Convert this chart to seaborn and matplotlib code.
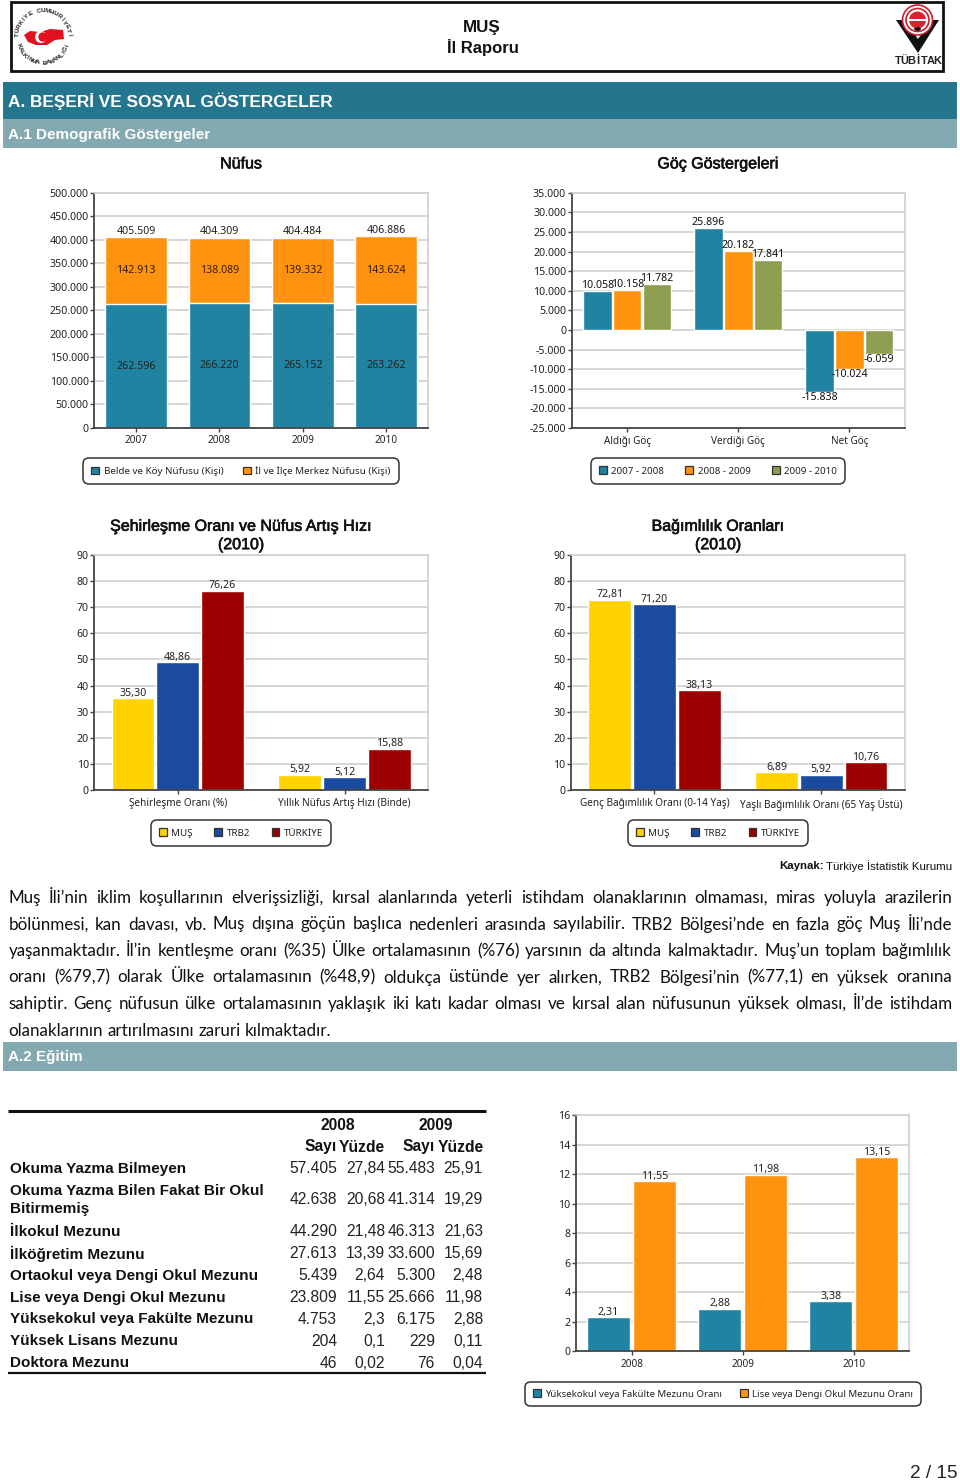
#!/usr/bin/env python
"""
  Mus il raporu, sayfa 2: demografi ve egitim grafikleri
"""

import matplotlib
matplotlib.use('Agg')
import matplotlib.pyplot as plt
import matplotlib.patheffects as pe
import matplotlib.ticker as ticker
from matplotlib.patches import Circle, Patch, Polygon, Rectangle, Wedge
import numpy as np
import pandas as pd
import seaborn as sns

W, H = 960, 1484

TEAL = "#1F83A1"
ORANGE = "#FF930F"
OLIVE = "#8E9E50"
YELLOW = "#FFD200"
BLUE = "#1B4BA0"
RED = "#9C0000"

# nufus
nufus_years = ["2007", "2008", "2009", "2010"]
nufus_koy = [262596, 266220, 265152, 263262]
nufus_merkez = [142913, 138089, 139332, 143624]

# goc
goc_cats = ["Aldığı Göç", "Verdiği Göç", "Net Göç"]
goc_periods = ["2007 - 2008", "2008 - 2009", "2009 - 2010"]
goc_0708 = [10058, 25896, -15838]
goc_0809 = [10158, 20182, -10024]
goc_0910 = [11782, 17841, -6059]

# sehirlesme
sehir_cats = ["Şehirleşme Oranı (%)", "Yıllık Nüfus Artış Hızı (Binde)"]
sehir_mus = [35.30, 5.92]
sehir_trb2 = [48.86, 5.12]
sehir_tr = [76.26, 15.88]

# bagimlilik
bag_cats = ["Genç Bağımlılık Oranı (0-14 Yaş)", "Yaşlı Bağımlılık Oranı (65 Yaş Üstü)"]
bag_mus = [72.81, 6.89]
bag_trb2 = [71.20, 5.92]
bag_tr = [38.13, 10.76]

region_names = ["MUŞ", "TRB2", "TÜRKİYE"]

# egitim
egitim_years = ["2008", "2009", "2010"]
egitim_yuksek = [2.31, 2.88, 3.38]
egitim_lise = [11.55, 11.98, 13.15]
egitim_names = ["Yüksekokul veya Fakülte Mezunu Oranı", "Lise veya Dengi Okul Mezunu Oranı"]

# tablo
table_labels = [
  "Okuma Yazma Bilmeyen",
  "Okuma Yazma Bilen Fakat Bir Okul\nBitirmemiş",
  "İlkokul Mezunu",
  "İlköğretim Mezunu",
  "Ortaokul veya Dengi Okul Mezunu",
  "Lise veya Dengi Okul Mezunu",
  "Yüksekokul veya Fakülte Mezunu",
  "Yüksek Lisans Mezunu",
  "Doktora Mezunu",
]
sayi_2008 = ["57.405", "42.638", "44.290", "27.613", "5.439", "23.809", "4.753", "204", "46"]
yuzde_2008 = ["27,84", "20,68", "21,48", "13,39", "2,64", "11,55", "2,3", "0,1", "0,02"]
sayi_2009 = ["55.483", "41.314", "46.313", "33.600", "5.300", "25.666", "6.175", "229", "76"]
yuzde_2009 = ["25,91", "19,29", "21,63", "15,69", "2,48", "11,98", "2,88", "0,11", "0,04"]
table_rows_y = [1168.5, 1200, 1232, 1253.5, 1276, 1298, 1319.5, 1341, 1363]

body_lines = [
  "Muş İli’nin iklim koşullarının elverişsizliği, kırsal alanlarında yeterli istihdam olanaklarının olmaması, miras yoluyla arazilerin",
  "bölünmesi, kan davası, vb. Muş dışına göçün başlıca nedenleri arasında sayılabilir. TRB2 Bölgesi’nde en fazla göç Muş İli’nde",
  "yaşanmaktadır. İl’in kentleşme oranı (%35) Ülke ortalamasının (%76) yarsının da altında kalmaktadır. Muş’un toplam bağımlılık",
  "oranı (%79,7) olarak Ülke ortalamasının (%48,9) oldukça üstünde yer alırken, TRB2 Bölgesi’nin (%77,1) en yüksek oranına",
  "sahiptir. Genç nüfusun ülke ortalamasının yaklaşık iki katı kadar olması ve kırsal alan nüfusunun yüksek olması, İl’de istihdam",
  "olanaklarının artırılmasını zaruri kılmaktadır.",
]


def px(size):
  """ font size in pixels to points at dpi 100
  """
  return size * 0.72


def thousands(v, pos=None):
  return f"{int(v):,}".replace(",", ".")


def decimal(v):
  return f"{v:.2f}".replace(".", ",")


def make_axes(fig, x0, y0, x1, y1):
  ax = fig.add_axes([x0 / W, 1 - y1 / H, (x1 - x0) / W, (y1 - y0) / H])
  return ax


def style_axes(ax, ymin, ymax, step, title, pad, title_cx=None):
  ax.set_ylim(ymin, ymax)
  ax.yaxis.set_major_locator(ticker.MultipleLocator(step))
  ax.set(xlabel="", ylabel="")
  ax.set_axisbelow(True)
  ax.yaxis.grid(True, color="#cfcfcf", lw=1.2)
  ax.xaxis.grid(False)
  for side in ("top", "right"):
    ax.spines[side].set_visible(True)
    ax.spines[side].set_color("#cfcfcf")
    ax.spines[side].set_linewidth(1.2)
  for side in ("left", "bottom"):
    ax.spines[side].set_visible(True)
    ax.spines[side].set_color("#444444")
    ax.spines[side].set_linewidth(1.3)
  ax.tick_params(axis="y", length=3, width=1, color="#444444", labelsize=px(10.6),
                 labelcolor="#222222", pad=1, left=True)
  ax.tick_params(axis="x", length=3, width=1, color="#444444", labelsize=px(10),
                 labelcolor="#222222", pad=2.5, bottom=True)
  if title:
    # chart titles are centred on the whole picture, not on the plot area
    box = ax.get_position()
    x = (title_cx / W - box.x0) / box.width
    ax.set_title(title, x=x, fontsize=px(16), family="Liberation Sans", color="#111111", pad=pad,
                 linespacing=1.28, path_effects=[pe.withStroke(linewidth=0.45, foreground="#111111")])


def add_legend(fig, ax, names, colors, cx, cy, spacing=2.0, size=9.8):
  handles = [Patch(facecolor=c, edgecolor="#333333", lw=0.9) for c in colors]
  leg = ax.legend(handles, names, loc="center", bbox_to_anchor=(cx / W, 1 - cy / H),
                  bbox_transform=fig.transFigure, ncols=len(names), frameon=True, fontsize=px(size),
                  handlelength=0.8, handleheight=0.8, handletextpad=0.45, columnspacing=spacing,
                  borderpad=0.82, labelcolor="#222222")
  frame = leg.get_frame()
  frame.set_edgecolor("#333333")
  frame.set_linewidth(1.1)
  frame.set_alpha(1)
  frame.set_boxstyle("round", pad=0, rounding_size=0.6)
  return leg


def grouped(ax, cats, names, series, colors, width=0.805, gap=0.045):
  rows = []
  for name, vals in zip(names, series):
    for cat, val in zip(cats, vals):
      rows.append({"cat": cat, "seri": name, "val": val})
  df = pd.DataFrame(rows)
  sns.barplot(data=df, x="cat", y="val", hue="seri", hue_order=names, order=cats, palette=colors,
              saturation=1, width=width, gap=gap, legend=False, ax=ax)
  return df


def nufus_chart(fig):
  ax = make_axes(fig, 94.3, 192.7, 428, 427.8)
  totals = [a + b for a, b in zip(nufus_koy, nufus_merkez)]
  sns.barplot(x=nufus_years, y=totals, color=ORANGE, saturation=1, width=0.74, ax=ax)
  sns.barplot(x=nufus_years, y=nufus_koy, color=TEAL, saturation=1, width=0.74, ax=ax)
  style_axes(ax, 0, 500000, 50000, "Nüfus", 17.5, 241)
  ax.yaxis.set_major_formatter(ticker.FuncFormatter(thousands))
  ax.bar_label(ax.containers[0], labels=[thousands(v) for v in totals], padding=0.3,
               fontsize=px(10.6), color="#222222")
  ax.bar_label(ax.containers[1], labels=[thousands(v) for v in nufus_koy], label_type="center",
               fontsize=px(10.6), color="#222222")
  for i, (low, top) in enumerate(zip(nufus_koy, nufus_merkez)):
    ax.text(i, low + top / 2, thousands(top), ha="center", va="center", fontsize=px(10.6), color="#3a1d00")
  add_legend(fig, ax, ["Belde ve Köy Nüfusu (Kişi)", "İl ve İlçe Merkez Nüfusu (Kişi)"], [TEAL, ORANGE], 241, 471)


def goc_chart(fig):
  ax = make_axes(fig, 571.7, 192.7, 905, 428)
  grouped(ax, goc_cats, goc_periods, [goc_0708, goc_0809, goc_0910], [TEAL, ORANGE, OLIVE])
  style_axes(ax, -25000, 35000, 5000, "Göç Göstergeleri", 17.5, 718)
  ax.yaxis.set_major_formatter(ticker.FuncFormatter(thousands))
  for cont in ax.containers:
    ax.bar_label(cont, labels=[thousands(b.get_height()) for b in cont], padding=0,
                 fontsize=px(10.6), color="#111111")
  add_legend(fig, ax, goc_periods, [TEAL, ORANGE, OLIVE], 718, 471, spacing=2.2)


def oran_chart(fig, box, cats, series, title, legend_x):
  ax = make_axes(fig, *box)
  grouped(ax, cats, region_names, series, [YELLOW, BLUE, RED])
  style_axes(ax, 0, 90, 10, title, 4, legend_x)
  ax.yaxis.set_major_formatter(ticker.FuncFormatter(lambda v, pos: f"{int(v)}"))
  for cont, vals in zip(ax.containers, series):
    ax.bar_label(cont, labels=[decimal(v) for v in vals], padding=-0.5, fontsize=px(10.6), color="#222222")
  add_legend(fig, ax, region_names, [YELLOW, BLUE, RED], legend_x, 833, spacing=2.2)


def egitim_chart(fig):
  ax = make_axes(fig, 576, 1115.3, 909.3, 1351)
  grouped(ax, egitim_years, egitim_names, [egitim_yuksek, egitim_lise], [TEAL, ORANGE], width=0.83, gap=0.065)
  style_axes(ax, 0, 16, 2, None, 0)
  ax.yaxis.set_major_formatter(ticker.FuncFormatter(lambda v, pos: f"{int(v)}"))
  for cont, vals in zip(ax.containers, [egitim_yuksek, egitim_lise]):
    ax.bar_label(cont, labels=[decimal(v) for v in vals], padding=-0.5, fontsize=px(10.6), color="#222222")
  add_legend(fig, ax, egitim_names, [TEAL, ORANGE], 723, 1394, spacing=1.9, size=9.6)


def arc_text(ov, text, cx, cy, r, start, end, size):
  """ letters along a circle, angles in degrees, 0 at the top and clockwise
  """
  for ch, a in zip(text, np.linspace(start, end, len(text))):
    rad = np.deg2rad(a)
    rot = -a if abs(a) < 90 else 180 - a
    ov.text(cx + r * np.sin(rad), cy - r * np.cos(rad), ch, rotation=rot, ha="center", va="center",
            fontsize=px(size), fontweight="bold", color="#222222", family="Liberation Sans")


def header(ov):
  ov.add_patch(Rectangle((10.5, 2), 932.5, 68.5, fc="white", ec="#111111", lw=2))
  ov.text(482, 27.5, "MUŞ", ha="center", va="center", fontsize=px(17), fontweight="bold", color="#111111")
  ov.text(483, 47.5, "İl Raporu", ha="center", va="center", fontsize=px(16.6), fontweight="bold", color="#111111")

  # kalkinma bakanligi
  arc_text(ov, "TÜRKİYE CUMHURİYETİ", 43, 37, 26, -85, 85, 6.4)
  arc_text(ov, "KALKINMA BAKANLIĞI", 43, 37, 26, 250, 110, 6.4)
  ov.add_patch(Polygon([(24, 35), (30, 31), (40, 32), (50, 29), (63, 30), (64, 39), (55, 40),
                        (47, 45), (36, 45), (28, 42)], fc="#E3101F", ec="none", zorder=3))
  ov.add_patch(Circle((41, 37), 6, fc="white", ec="none", zorder=4))
  ov.add_patch(Circle((43, 37), 4.7, fc="#E3101F", ec="none", zorder=4))

  # tubitak
  ov.add_patch(Polygon([(896, 20), (939, 20), (918, 53)], fc="#111111", ec="none", zorder=3))
  ov.add_patch(Polygon([(911, 29), (925, 29), (918, 39)], fc="#ffffff", ec="none", zorder=3))
  ov.add_patch(Circle((917.5, 20), 15, fc="white", ec="#C8202F", lw=1.2, zorder=4))
  ov.add_patch(Circle((917.5, 20), 11.5, fc="white", ec="#C8202F", lw=1.2, zorder=4))
  ov.add_patch(Circle((917.5, 20), 8.5, fc="#D9222F", ec="none", zorder=4))
  ov.add_patch(Rectangle((908, 19.2), 19, 1.8, fc="white", ec="none", zorder=5))
  ov.add_patch(Wedge((917.5, 27), 4, 20, 160, fc="#111111", ec="none", zorder=5))
  for i, ch in enumerate("TÜBİTAK"):
    ov.text(898 + i * 6.5, 61.5, ch, ha="center", va="center", fontsize=px(11), fontweight="bold",
            color="#222222", family="Liberation Sans")


def bands(ov):
  ov.add_patch(Rectangle((3, 81.7), 954, 37.6, fc="#23768E", ec="none"))
  ov.add_patch(Rectangle((3, 119.3), 954, 29, fc="#83A9B1", ec="none"))
  ov.add_patch(Rectangle((3, 1042), 954, 29, fc="#83A9B1", ec="none"))
  ov.text(8, 101, "A. BEŞERİ VE SOSYAL GÖSTERGELER", va="center", color="white", fontsize=px(17.3),
          fontweight="bold")
  ov.text(8, 134.5, "A.1 Demografik Göstergeler", va="center", color="white", fontsize=px(15.2), fontweight="bold")
  ov.text(8, 1057.5, "A.2 Eğitim", va="center", color="white", fontsize=px(15.2), fontweight="bold")


def justified(fig, ov, text, y, x0, x1, stretch=True):
  words = text.split(" ")
  items = [ov.text(0, y, w, va="center", family="Lato", fontsize=px(17), color="#111111") for w in words]
  rend = fig.canvas.get_renderer()
  widths = [t.get_window_extent(rend).width for t in items]
  space = (x1 - x0 - sum(widths)) / (len(words) - 1) if stretch else 4.2
  x = x0
  for t, w in zip(items, widths):
    t.set_x(x)
    x += w + space


def body(fig, ov):
  t2 = ov.text(952, 866, "Türkiye İstatistik Kurumu", ha="right", va="center", fontsize=px(11.5), color="#111111")
  rend = fig.canvas.get_renderer()
  w = t2.get_window_extent(rend).width
  ov.text(952 - w - 2.5, 866, "Kaynak:", ha="right", va="center", fontsize=px(11.5), fontweight="bold", color="#111111")
  ys = [898, 924.5, 951, 977.5, 1004, 1031]
  for i, (line, y) in enumerate(zip(body_lines, ys)):
    justified(fig, ov, line, y, 8.5, 952, stretch=i < len(body_lines) - 1)


def table(ov):
  ov.plot([8, 486], [1111, 1111], color="#111111", lw=2.2, solid_capstyle="butt")
  ov.plot([8, 486], [1373, 1373], color="#111111", lw=1.6, solid_capstyle="butt")
  head = px(15.6)
  ov.text(338, 1125, "2008", ha="center", va="center", fontsize=head, fontweight="bold", color="#111111")
  ov.text(436, 1125, "2009", ha="center", va="center", fontsize=head, fontweight="bold", color="#111111")
  for x, s in [(337, "Sayı"), (385, "Yüzde"), (435, "Sayı"), (484, "Yüzde")]:
    ov.text(x, 1147, s, ha="right", va="center", fontsize=head, fontweight="bold", color="#111111")
  for i, y in enumerate(table_rows_y):
    ov.text(10, y, table_labels[i], va="center", fontsize=px(15.2), fontweight="bold", color="#111111", linespacing=1.35)
    for x, col in [(337, sayi_2008), (385, yuzde_2008), (435, sayi_2009), (483, yuzde_2009)]:
      ov.text(x, y, col[i], ha="right", va="center", fontsize=px(15.6), color="#222222")


def main():
  sns.set_theme(style="white")
  plt.rcParams["font.family"] = ["Noto Sans", "DejaVu Sans"]
  fig = plt.figure(figsize=(W / 100, H / 100), dpi=100)

  # page layer in pixel coordinates
  ov = fig.add_axes([0, 0, 1, 1], zorder=0)
  ov.set_xlim(0, W)
  ov.set_ylim(H, 0)
  ov.axis("off")

  plt.rcParams["font.family"] = ["Liberation Sans", "DejaVu Sans"]
  header(ov)
  bands(ov)
  body(fig, ov)
  table(ov)
  ov.text(957, 1474, "2 / 15", ha="right", va="center", fontsize=px(19), color="#222222")

  plt.rcParams["font.family"] = ["Noto Sans", "DejaVu Sans"]
  nufus_chart(fig)
  goc_chart(fig)
  oran_chart(fig, (94.3, 554.7, 428, 790.3), sehir_cats, [sehir_mus, sehir_trb2, sehir_tr],
             "Şehirleşme Oranı ve Nüfus Artış Hızı\n(2010)", 241)
  oran_chart(fig, (571, 554.7, 904.7, 790.3), bag_cats, [bag_mus, bag_trb2, bag_tr],
             "Bağımlılık Oranları\n(2010)", 718)
  egitim_chart(fig)

  fig.savefig("out.png", dpi=100)


if __name__ == "__main__":
  main()
